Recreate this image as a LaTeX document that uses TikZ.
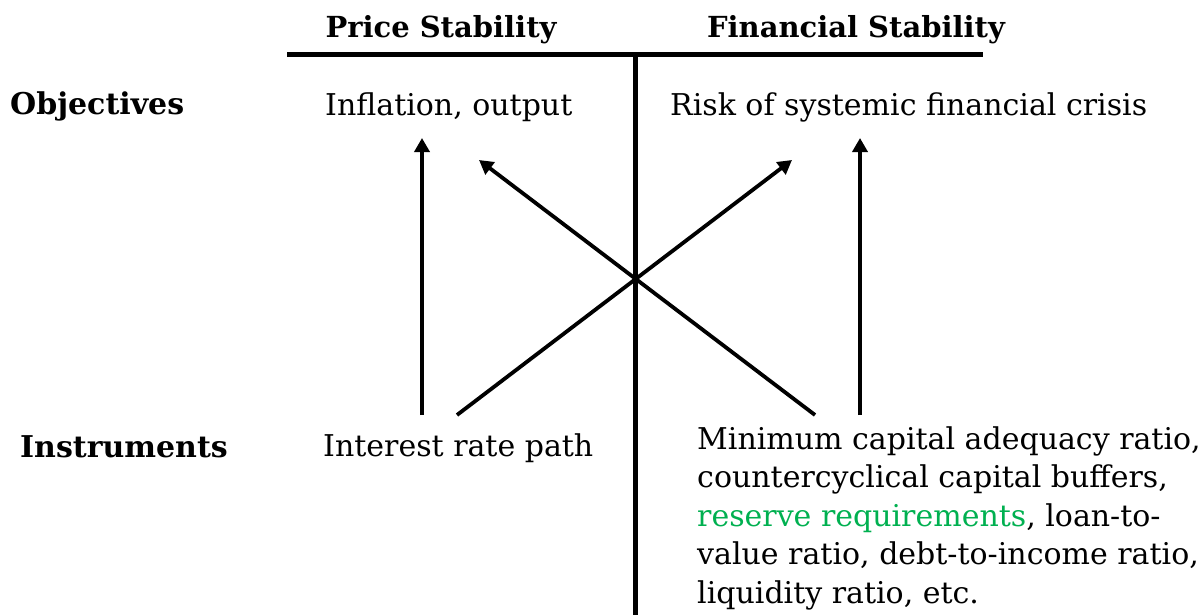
\documentclass[tikz,border=0pt]{standalone}
\usepackage{fontspec}
\setmainfont{DejaVu Serif}
\usetikzlibrary{arrows.meta}
\definecolor{officegreen}{RGB}{0,176,80}
\begin{document}
\begin{tikzpicture}[x=1pt,y=-1pt,
  heading/.style={font=\fontsize{29}{34}\selectfont\bfseries, inner sep=0pt, anchor=base},
  rowlabel/.style={font=\fontsize{30}{35}\selectfont\bfseries, inner sep=0pt, anchor=base west},
  entry/.style={font=\fontsize{30}{38.5}\selectfont, inner sep=0pt, anchor=base west, align=left},
  rule/.style={line width=5pt},
  link/.style={line width=3.8pt, -{Triangle[length=14pt,width=15pt]}}]
  \useasboundingbox (0,0) rectangle (1204,615);

  % column headings and the T-shaped rule
  \node[heading] (ps) at (441,38) {Price Stability};
  \node[heading] (fs) at (856,38) {Financial Stability};
  \coordinate (hl) at (287,54.5);
  \coordinate (hr) at (983,54.5);
  \coordinate (vt) at (635,54.5);
  \coordinate (vb) at (635,615);
  \draw[rule] (hl) -- (hr);
  \draw[rule] (vt) -- (vb);

  % row labels
  \node[rowlabel] (obj) at (10,115) {Objectives};
  \node[rowlabel] (instr) at (20,457) {Instruments};

  % objectives
  \node[entry] (infl) at (325,116) {Inflation, output};
  \node[entry] (risk) at (670,116) {Risk of systemic financial crisis};

  % instruments (the node's base is the baseline of its last line)
  \node[entry] (irp) at (323,456) {Interest rate path};
  \node[entry] (tools) at (697,603) {Minimum capital adequacy ratio,\\
    countercyclical capital buffers,\\
    \textcolor{officegreen}{reserve requirements}, loan-to-\\
    value ratio, debt-to-income ratio,\\
    liquidity ratio, etc.};

  % arrow end points
  \coordinate (irpA) at (422,415);
  \coordinate (irpB) at (457,415);
  \coordinate (toolsA) at (815,415);
  \coordinate (toolsB) at (860,415);
  \coordinate (inflA) at (422,138);
  \coordinate (inflB) at (479,160);
  \coordinate (riskA) at (792,160);
  \coordinate (riskB) at (860,138);

  % instruments acting on objectives
  \draw[link] (irpA) -- (inflA);
  \draw[link] (irpB) -- (riskA);
  \draw[link] (toolsA) -- (inflB);
  \draw[link] (toolsB) -- (riskB);
\end{tikzpicture}
\end{document}
